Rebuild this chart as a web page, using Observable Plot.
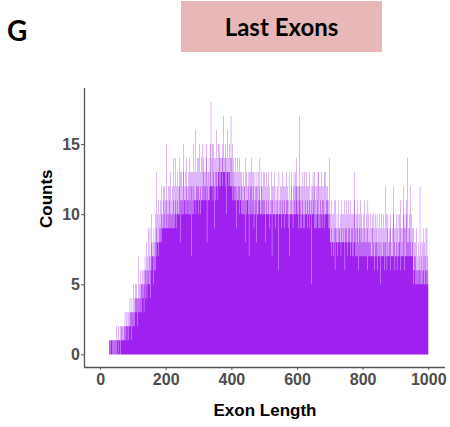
<!DOCTYPE html>
<html>
<head>
<meta charset="utf-8">
<script src="https://cdn.jsdelivr.net/npm/d3@7"></script>
<script src="https://cdn.jsdelivr.net/npm/@observablehq/plot@0.6"></script>
<style>
  html, body { margin: 0; padding: 0; background: #fff; }
  #wrap { position: relative; width: 450px; height: 427px; overflow: hidden; }
  #header { position: relative; width: 450px; height: 60px; }
  #panel { position: absolute; left: 7px; top: 12px; font: bold 28px Lato, "Open Sans", sans-serif; color: #000; line-height: 36px; }
  #titlebox { position: absolute; left: 181px; top: 1px; width: 201px; height: 51px; background: #E8B7B7;
    display: flex; align-items: center; justify-content: center; font: bold 24px Lato, "Open Sans", sans-serif; color: #000; }
</style>
</head>
<body>
<div id="wrap">
  <div id="header">
    <div id="panel">G</div>
    <div id="titlebox">Last Exons</div>
  </div>
  <div id="chart"></div>
</div>
<script>
// Exon length histogram: one count per length, first value at startLength
const startLength = 28;
const counts = [
  1,1,
  1,1,0,1,1,1,1,0,1,1,
  1,0,1,1,0,1,1,1,0,2,
  1,0,1,1,1,0,1,2,1,1,
  1,2,1,0,2,1,2,1,1,2,
  2,1,1,2,2,1,3,2,1,2,
  2,3,1,2,2,3,2,1,3,2,
  2,4,3,2,3,1,3,4,2,3,
  3,2,5,3,4,2,3,5,3,4,
  4,3,5,2,4,4,3,7,4,3,
  5,4,3,6,4,5,3,5,6,4,
  5,6,4,5,3,6,5,7,4,6,
  6,5,8,4,6,7,5,9,6,5,
  7,5,9,6,4,7,8,10,6,7,
  7,8,5,7,9,6,8,7,10,6,
  8,7,9,13,8,8,10,7,11,8,
  9,8,10,8,11,9,8,10,12,9,
  10,9,11,9,12,9,10,12,9,11,
  9,11,9,15,10,9,11,9,12,10,
  9,11,12,9,10,13,9,11,10,9,
  10,12,9,14,11,9,12,10,9,14,
  11,10,12,10,9,13,11,10,12,10,
  10,12,14,10,11,13,8,10,13,11,
  12,10,11,13,15,10,11,12,11,10,
  11,13,10,12,14,10,12,11,11,13,
  10,12,14,10,11,13,10,12,7,13,
  12,10,13,11,15,10,12,11,13,11,
  16,11,10,13,12,11,14,11,12,10,
  12,14,11,15,11,10,13,12,11,14,
  11,15,12,11,13,11,14,11,12,13,
  11,13,12,14,15,11,8,13,12,11,
  13,11,14,12,11,13,15,12,18,12,
  12,14,12,15,11,13,15,12,9,14,
  12,14,11,13,16,12,13,14,12,11,
  13,15,13,14,12,15,13,12,14,13,
  14,13,15,12,14,13,17,13,14,13,
  13,14,15,12,13,14,10,13,16,13,
  13,12,14,13,15,13,12,14,12,17,
  12,14,12,15,11,13,12,14,11,12,
  13,11,12,14,11,13,9,12,14,11,
  11,13,11,12,14,10,12,11,13,11,
  12,10,13,11,10,12,11,13,10,12,
  10,12,11,14,8,11,13,10,12,11,
  11,13,10,12,7,11,13,10,12,13,
  10,12,14,10,11,13,10,12,13,9,
  11,10,13,12,10,11,8,12,13,10,
  12,10,11,13,10,12,11,14,10,11,
  10,12,13,10,11,12,10,13,11,10,
  11,10,13,10,8,12,10,13,11,10,
  10,12,10,11,13,10,9,12,10,11,
  10,11,13,10,7,11,12,10,10,12,
  10,13,10,11,10,9,12,11,10,10,
  12,10,11,6,10,13,10,11,10,12,
  10,11,12,9,10,13,10,11,12,10,
  10,9,12,11,10,12,10,13,10,11,
  10,11,12,9,10,11,13,10,7,10,
  11,10,12,10,13,10,11,10,9,12,
  10,13,10,11,12,10,13,10,12,14,
  11,12,10,10,12,9,11,17,12,10,
  9,11,12,10,9,12,11,10,13,10,
  9,12,13,9,10,11,10,12,10,13,
  10,9,12,11,10,12,10,11,13,9,
  11,10,10,12,5,11,10,12,10,13,
  10,11,12,9,13,10,9,11,12,9,
  10,12,10,11,13,9,13,10,9,12,
  10,11,12,9,10,13,10,11,12,9,
  11,10,12,10,13,9,10,13,10,11,
  10,12,10,11,12,9,10,11,14,10,
  9,8,10,8,11,9,7,8,10,8,
  8,10,7,9,11,8,6,9,11,8,
  8,9,10,8,7,9,8,11,8,9,
  9,8,8,10,7,9,11,8,10,8,
  8,10,8,9,11,8,6,10,9,8,
  9,11,8,8,10,7,9,11,8,10,
  8,9,11,8,7,10,8,9,7,10,
  9,7,10,8,11,13,8,10,7,9,
  8,10,7,9,11,7,10,8,6,9,
  10,7,9,11,7,8,10,7,9,8,
  7,9,10,7,8,11,7,9,8,7,
  9,7,10,8,6,9,11,7,8,10,
  8,7,9,7,10,8,7,9,7,10,
  7,9,7,10,8,7,9,6,8,10,
  7,8,9,7,10,6,8,7,9,7,
  8,7,10,7,9,5,8,10,7,7,
  7,9,7,8,10,7,6,9,8,12,
  7,8,10,7,6,9,7,10,7,8,
  7,9,7,8,10,6,9,7,8,7,
  9,7,7,10,12,7,6,9,8,7,
  7,9,7,10,8,6,9,7,10,8,
  7,7,10,8,9,6,11,7,9,7,
  8,7,9,7,10,12,7,9,6,10,
  7,9,7,10,11,7,8,14,7,9,
  8,7,10,7,9,12,7,8,10,7,
  7,9,7,8,6,5,9,6,7,8,
  5,7,8,5,6,9,5,7,6,5,
  6,8,5,7,6,12,5,6,8,5,
  7,5,8,6,5,9,6,7,5,8,
  5,7,6,9,5,6,9,5,7,6,
  5
];
const xTicks = [0, 200, 400, 600, 800, 1000];
const yTicks = [0, 5, 10, 15];
const xLabel = "Exon Length";
const yLabel = "Counts";

// keep zero counts so the stepped outline drops to 0 at empty lengths
const data = counts.map((c, i) => ({len: startLength + i, count: c}));

const xDomain = [-49, 1051];
const yDomain = [-0.9, 19];
const axisColor = "#555";
const tickTextColor = "#4D4D4D";

const chart = Plot.plot({
  width: 450,
  height: 367,
  marginLeft: 84,
  marginRight: 5,
  marginTop: 28,
  marginBottom: 60,
  x: {domain: xDomain},
  y: {domain: yDomain},
  style: {fontFamily: "'Liberation Sans', Arial, sans-serif", fontSize: "16px", fontWeight: "bold", background: "white", overflow: "visible"},
  marks: [
    // each length's count as a unit-width bar; drawn as one stepped shape so thin bars antialias cleanly
    Plot.areaY(data, {x: "len", y: "count", curve: "step", fill: "#A020F0"}),
    Plot.ruleX([xDomain[0]], {stroke: axisColor, strokeWidth: 1.3}),
    Plot.ruleY([yDomain[0]], {stroke: axisColor, strokeWidth: 1.3}),
    Plot.axisX({ticks: xTicks, tickSize: 3, tickPadding: 3, label: null, stroke: axisColor, fill: tickTextColor, tickFormat: d => String(d)}),
    Plot.axisY({ticks: yTicks, tickSize: 3, tickPadding: 1.5, label: null, stroke: axisColor, fill: tickTextColor, tickFormat: d => String(d)}),
    Plot.text([yLabel], {frameAnchor: "left", dx: -38, rotate: -90, fill: "black", fontSize: 17, fontWeight: "bold"}),
    Plot.text([xLabel], {frameAnchor: "bottom", dy: 48, fill: "black", fontSize: 17, fontWeight: "bold"})
  ]
});
document.getElementById("chart").appendChild(chart);
</script>
</body>
</html>
